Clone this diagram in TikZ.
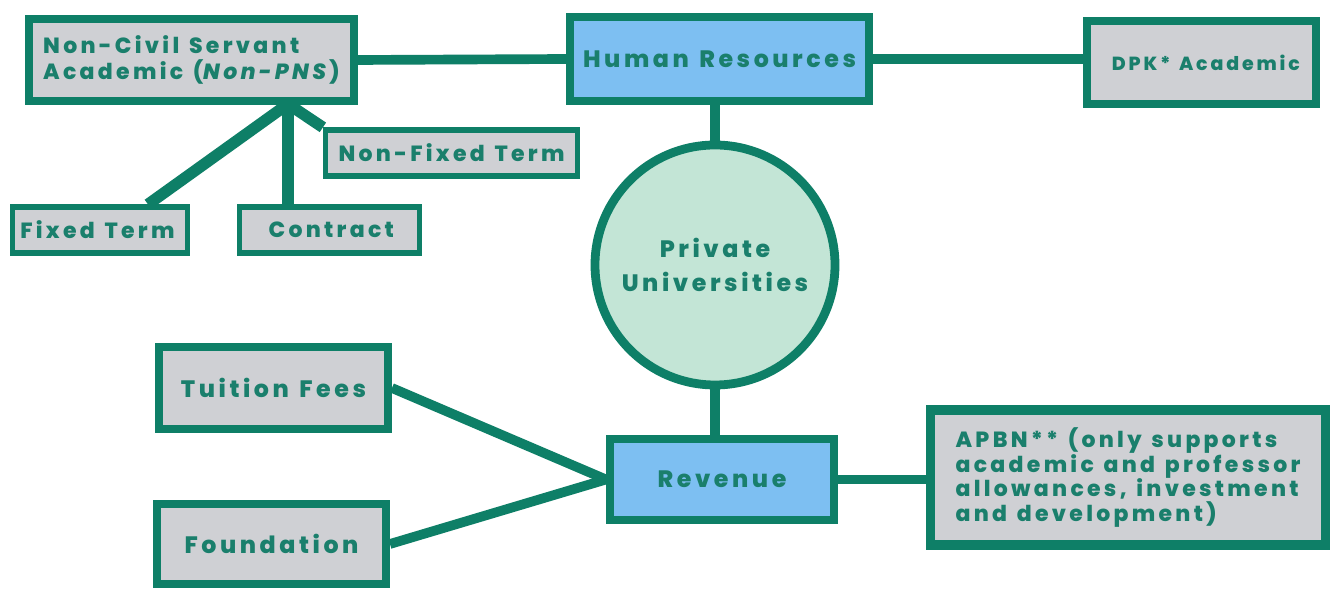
\documentclass[tikz,border=0pt]{standalone}
\usepackage{fontspec}
\setmainfont{Poppins}[LetterSpace=15, WordSpace=1.3, BoldFont={Poppins ExtraBold}, BoldItalicFont={Poppins ExtraBold Italic}]
\definecolor{edge}{HTML}{0E7F67}
\definecolor{ink}{HTML}{1A7F6C}
\definecolor{grayfill}{HTML}{CFD0D4}
\definecolor{bluefill}{HTML}{7DBFF2}
\definecolor{mint}{HTML}{C3E5D6}
\begin{document}
\begin{tikzpicture}[x=0.02cm,y=-0.02cm,
  font=\bfseries\fontsize{12.5}{14}\selectfont,
  box/.style={draw=edge, line width=4.5pt, fill=grayfill, text=ink, inner sep=0pt, align=center},
  bluebox/.style={box, fill=bluefill},
  smallbox/.style={box, line width=3pt},
  link/.style={draw=edge, line width=5.5pt},
  fan link/.style={draw=edge, line width=6.5pt}]
\useasboundingbox (0,0) rectangle (1333,590);
\fill[white] (0,0) rectangle (1333,590);
\coordinate (hub) at (288,104);
\node[box, minimum width={325*0.02cm}, minimum height={82*0.02cm}, align=left] (ncs) at (191.5,60) {\raisebox{-1pt}{Non-Civil Servant}\\\raisebox{-2pt}{Academic (\textit{Non-PNS})}};
\node[bluebox, minimum width={299*0.02cm}, minimum height={84*0.02cm}, font=\bfseries\fontsize{13.5}{14}\selectfont] (hr) at (719.5,59) {Human Resources};
\node[box, minimum width={229*0.02cm}, minimum height={83*0.02cm}, font=\bfseries\fontsize{10.8}{12}\selectfont] (dpk) at (1201.5,62.5) {\hspace{5pt}DPK* Academic};
\node[smallbox, minimum width={252*0.02cm}, minimum height={46*0.02cm}] (nft) at (451.5,153) {Non-Fixed Term};
\node[smallbox, minimum width={175*0.02cm}, minimum height={46*0.02cm}] (ft) at (100,230) {Fixed Term\hspace{3pt}};
\node[smallbox, minimum width={180*0.02cm}, minimum height={46*0.02cm}] (con) at (329.5,230) {\raisebox{-3pt}{\hspace{2pt}Contract}};
\node[box, circle, fill=mint, line width=5pt, minimum size={240*0.02cm}, font=\bfseries\fontsize{13.5}{19}\selectfont] (pu) at (715,265) {Private\\Universities};
\node[box, minimum width={229*0.02cm}, minimum height={82*0.02cm}, font=\bfseries\fontsize{13.5}{14}\selectfont] (tf) at (273.5,388) {Tuition Fees};
\node[box, minimum width={229*0.02cm}, minimum height={80*0.02cm}, font=\bfseries\fontsize{13.5}{14}\selectfont] (fd) at (271.5,544) {\raisebox{-5pt}{Foundation}};
\node[bluebox, minimum width={224*0.02cm}, minimum height={81*0.02cm}, font=\bfseries\fontsize{13.5}{14}\selectfont] (rev) at (722,479.5) {Revenue};
\node[box, line width=5.5pt, minimum width={395*0.02cm}, minimum height={135*0.02cm}, align=left, font=\bfseries\fontsize{12.5}{14.2}\selectfont] (apbn) at (1128,477.5) {APBN** (only supports\\academic and professor\\allowances, investment\\and development)};
% connectors
\draw[link] (ncs.east) -- (hr.west);
\draw[link] (hr.east) -- (hr.east -| dpk.west);
\draw[link] (hr.south -| pu.north) -- (pu.north);
\draw[link] (pu.south) -- (rev.north -| pu.south);
\draw[link] (rev.east) -- (apbn.west |- rev.east);
\draw[link] (tf.east) -- (rev.west);
\draw[link] (fd.east) -- (rev.west);
\draw[fan link] (hub) -- (ft.north -| 148,0);
\draw[fan link] (hub) -- (hub |- con.north);
\draw[fan link] (hub) -- (nft.north west);
\end{tikzpicture}
\end{document}
